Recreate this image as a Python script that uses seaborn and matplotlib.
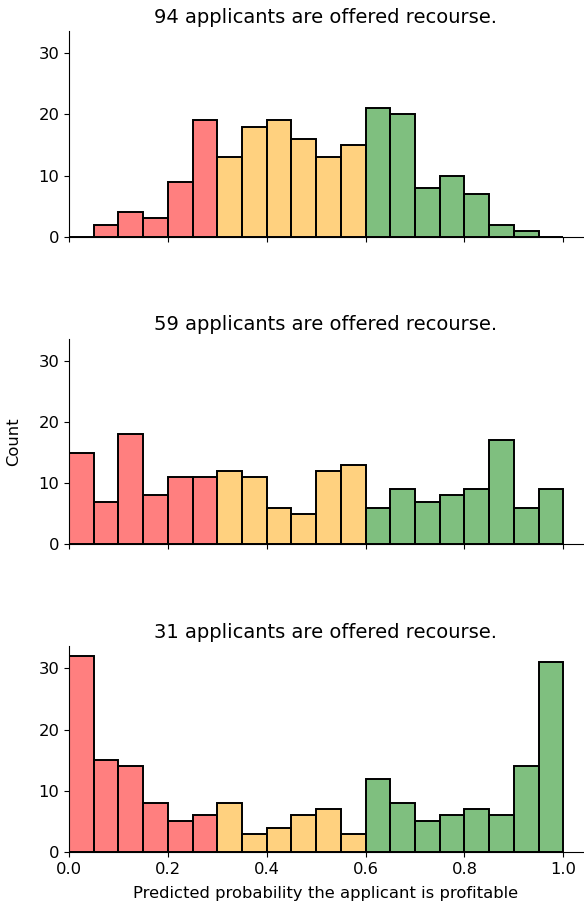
import numpy as np
import pandas as pd
import matplotlib
matplotlib.use("Agg")
import matplotlib.pyplot as plt
import seaborn as sns

# bin edges and the three groups of bins (red / orange / green)
bin_edges = np.linspace(0.0, 1.0, 21)
group_slices = [(0, 6), (6, 12), (12, 20)]
group_colors = ["red", "orange", "green"]

# counts per bin for each panel
counts_top = [0, 2, 4, 3, 9, 19, 13, 18, 19, 16, 13, 15, 21, 20, 8, 10, 7, 2, 1, 0]
counts_mid = [15, 7, 18, 8, 11, 11, 12, 11, 6, 5, 12, 13, 6, 9, 7, 8, 9, 17, 6, 9]
counts_bot = [32, 15, 14, 8, 5, 6, 8, 3, 4, 6, 7, 3, 12, 8, 5, 6, 7, 6, 14, 31]
panels = [counts_top, counts_mid, counts_bot]

centers = (bin_edges[:-1] + bin_edges[1:]) / 2

fig, axes = plt.subplots(3, 1, figsize=(5.84, 9.07), dpi=100, sharex=True, sharey=True)
fig.subplots_adjust(left=69 / 584, right=583 / 584, bottom=55 / 907, top=876 / 907, hspace=0.495)

for i, (ax, counts) in enumerate(zip(axes, panels)):
    df = pd.DataFrame({"prob": centers, "n": counts})
    for (a, b), col in zip(group_slices, group_colors):
        sns.histplot(data=df.iloc[a:b], x="prob", weights="n", bins=list(bin_edges[a:b + 1]),
                     color=col, alpha=0.5, edgecolor="black", linewidth=1.4, ax=ax)
    n_offered = df["n"].iloc[6:12].sum()
    ax.set_title(f"{n_offered} applicants are offered recourse.", fontsize=14)
    ax.set_ylabel("Count" if i == 1 else "", fontsize=11.8, labelpad=12)
    ax.set_xlabel("")
    ax.tick_params(labelsize=11.8)
    sns.despine(ax=ax)

axes[0].set_xlim(0, 1.04)
axes[0].set_ylim(0, 33.6)
axes[0].set_yticks([0, 10, 20, 30])
axes[2].set_xticks([0.0, 0.2, 0.4, 0.6, 0.8, 1.0])
axes[2].set_xlabel("Predicted probability the applicant is profitable", fontsize=11.8, labelpad=7)

fig.savefig("out.png", dpi=100)
